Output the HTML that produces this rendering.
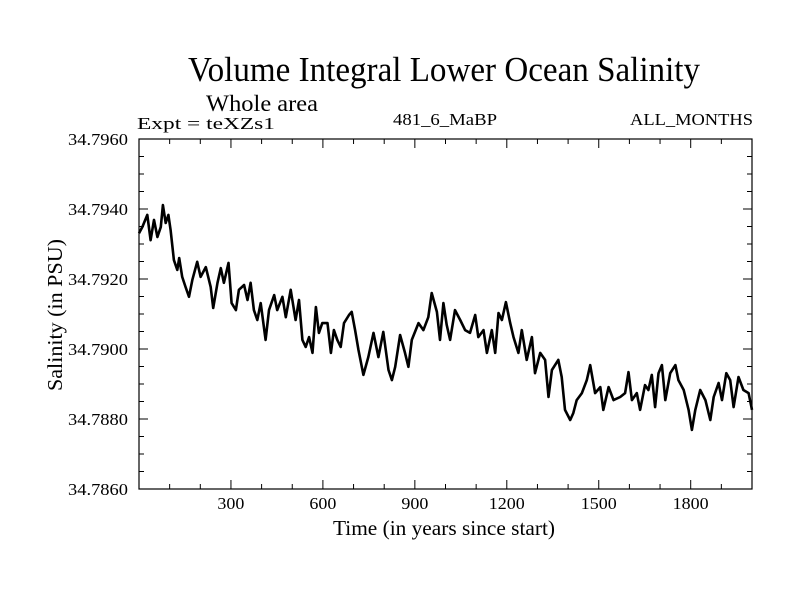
<!DOCTYPE html>
<html><head><meta charset="utf-8"><style>
html,body{margin:0;padding:0;background:#fff;}
svg{display:block;font-family:"Liberation Serif",serif;}
</style></head><body>
<svg id="chart" width="800" height="600" viewBox="0 0 800 600">
<rect width="800" height="600" fill="#fff"/>
<text x="444" y="81" font-size="35" text-anchor="middle" textLength="512" lengthAdjust="spacingAndGlyphs">Volume Integral Lower Ocean Salinity</text>
<text x="206" y="111" font-size="23" textLength="112" lengthAdjust="spacingAndGlyphs">Whole area</text>
<text x="137" y="129" font-size="17" textLength="138" lengthAdjust="spacingAndGlyphs">Expt = teXZs1</text>
<text x="445" y="125" font-size="17" text-anchor="middle" textLength="104" lengthAdjust="spacingAndGlyphs">481_6_MaBP</text>
<text x="753" y="125" font-size="17" text-anchor="end" textLength="123" lengthAdjust="spacingAndGlyphs">ALL_MONTHS</text>
<g id="axes"></g>
<g id="series"></g>
<rect x="139" y="139" width="613" height="350" fill="none" stroke="#000" stroke-width="1.2"/>
<text x="444" y="535" font-size="21" text-anchor="middle" textLength="222" lengthAdjust="spacingAndGlyphs">Time (in years since start)</text>
<text transform="translate(62,315) rotate(-90)" font-size="21" text-anchor="middle" textLength="152" lengthAdjust="spacingAndGlyphs">Salinity (in PSU)</text>
</svg>
<script>
const years = [0,11,27,38,49,60,71,78,87,96,103,114,125,131,141,152,163,174,190,201,218,234,242,256,267,277,292,302,316,326,343,354,364,375,386,397,413,424,441,451,468,479,495,511,522,533,544,555,566,577,587,598,615,626,636,647,658,669,685,694,705,716,732,748,765,781,797,814,825,836,852,868,879,890,912,928,944,955,972,982,993,1004,1015,1031,1048,1064,1080,1097,1107,1124,1135,1151,1162,1173,1184,1197,1211,1222,1238,1249,1265,1282,1292,1309,1325,1336,1347,1368,1379,1390,1407,1417,1428,1445,1461,1472,1488,1505,1515,1532,1548,1570,1586,1597,1608,1624,1635,1651,1662,1673,1684,1695,1706,1717,1733,1750,1760,1777,1793,1804,1815,1831,1848,1864,1875,1891,1902,1916,1929,1940,1956,1972,1989,2000];
const salinity = [34.79331,34.79349,34.79383,34.79311,34.79369,34.79320,34.79349,34.79411,34.79360,34.79383,34.79340,34.79254,34.79226,34.79260,34.79206,34.79177,34.79149,34.79197,34.79249,34.79206,34.79234,34.79177,34.79117,34.79189,34.79231,34.79189,34.79246,34.79131,34.79111,34.79169,34.79183,34.79140,34.79189,34.79111,34.79083,34.79131,34.79026,34.79111,34.79154,34.79111,34.79149,34.79091,34.79169,34.79083,34.79140,34.79026,34.79006,34.79034,34.78989,34.79120,34.79046,34.79074,34.79074,34.78989,34.79054,34.79026,34.79006,34.79074,34.79097,34.79106,34.79054,34.78997,34.78926,34.78977,34.79046,34.78977,34.79049,34.78940,34.78911,34.78949,34.79040,34.78989,34.78949,34.79026,34.79074,34.79054,34.79091,34.79160,34.79106,34.79026,34.79131,34.79069,34.79026,34.79111,34.79083,34.79054,34.79046,34.79097,34.79034,34.79054,34.78989,34.79054,34.78989,34.79103,34.79083,34.79134,34.79074,34.79034,34.78989,34.79054,34.78969,34.79034,34.78931,34.78989,34.78969,34.78863,34.78940,34.78969,34.78920,34.78826,34.78797,34.78817,34.78854,34.78874,34.78911,34.78954,34.78874,34.78891,34.78826,34.78891,34.78854,34.78863,34.78874,34.78934,34.78854,34.78874,34.78826,34.78897,34.78883,34.78926,34.78834,34.78931,34.78954,34.78854,34.78931,34.78954,34.78911,34.78883,34.78826,34.78769,34.78826,34.78883,34.78854,34.78797,34.78863,34.78903,34.78854,34.78931,34.78911,34.78834,34.78920,34.78883,34.78874,34.78826];
const xTickLabels = [300,600,900,1200,1500,1800];
const yTickLabels = ["34.7860","34.7880","34.7900","34.7920","34.7940","34.7960"];

const NS = "http://www.w3.org/2000/svg";
const X0=139, X1=752, Y0=489, Y1=139, xMin=0, xMax=2000, yMin=34.786, yMax=34.796;
function xs(v){return X0+(v-xMin)/(xMax-xMin)*(X1-X0);}
function ys(v){return Y0-(v-yMin)/(yMax-yMin)*(Y0-Y1);}
function mk(tag, attrs){const e=document.createElementNS(NS,tag);for(const k in attrs)e.setAttribute(k,attrs[k]);return e;}
const axes=document.getElementById('axes');
for(let t=100;t<2000;t+=100){
  const major=t%300===0, len=major?9:5, x=xs(t);
  const a=mk('line',{x1:x,y1:Y0,x2:x,y2:Y0-len,stroke:'#000','stroke-width':1});
  
  
  axes.appendChild(a);
  const b=mk('line',{x1:x,y1:Y1,x2:x,y2:Y1+len,stroke:'#000','stroke-width':1});
  
  
  axes.appendChild(b);
}
xTickLabels.forEach(t=>{
  const tx=mk('text',{x:xs(t),y:509,'font-size':17,'text-anchor':'middle',textLength:String(t).length*9,lengthAdjust:'spacingAndGlyphs'});
  tx.textContent=t;
  
  
  axes.appendChild(tx);
});
for(let i=1;i<20;i++){
  const v=yMin+i*0.0005, major=i%4===0, len=major?9:5, y=ys(v);
  const a=mk('line',{x1:X0,y1:y,x2:X0+len,y2:y,stroke:'#000','stroke-width':1});
  
  
  axes.appendChild(a);
  const b=mk('line',{x1:X1,y1:y,x2:X1-len,y2:y,stroke:'#000','stroke-width':1});
  
  
  axes.appendChild(b);
}
yTickLabels.forEach(l=>{
  const tx=mk('text',{x:128,y:ys(parseFloat(l))+6,'font-size':17,'text-anchor':'end',textLength:60,lengthAdjust:'spacingAndGlyphs'});
  tx.textContent=l;
  
  
  axes.appendChild(tx);
});
let d='';
years.forEach((t,i)=>{d+=(i?'L':'M')+xs(t).toFixed(1)+','+ys(salinity[i]).toFixed(1);});
const p=mk('path',{d:d,fill:'none',stroke:'#000','stroke-width':2.6,'stroke-linejoin':'round'});


document.getElementById('series').appendChild(p);
</script>
</body></html>
